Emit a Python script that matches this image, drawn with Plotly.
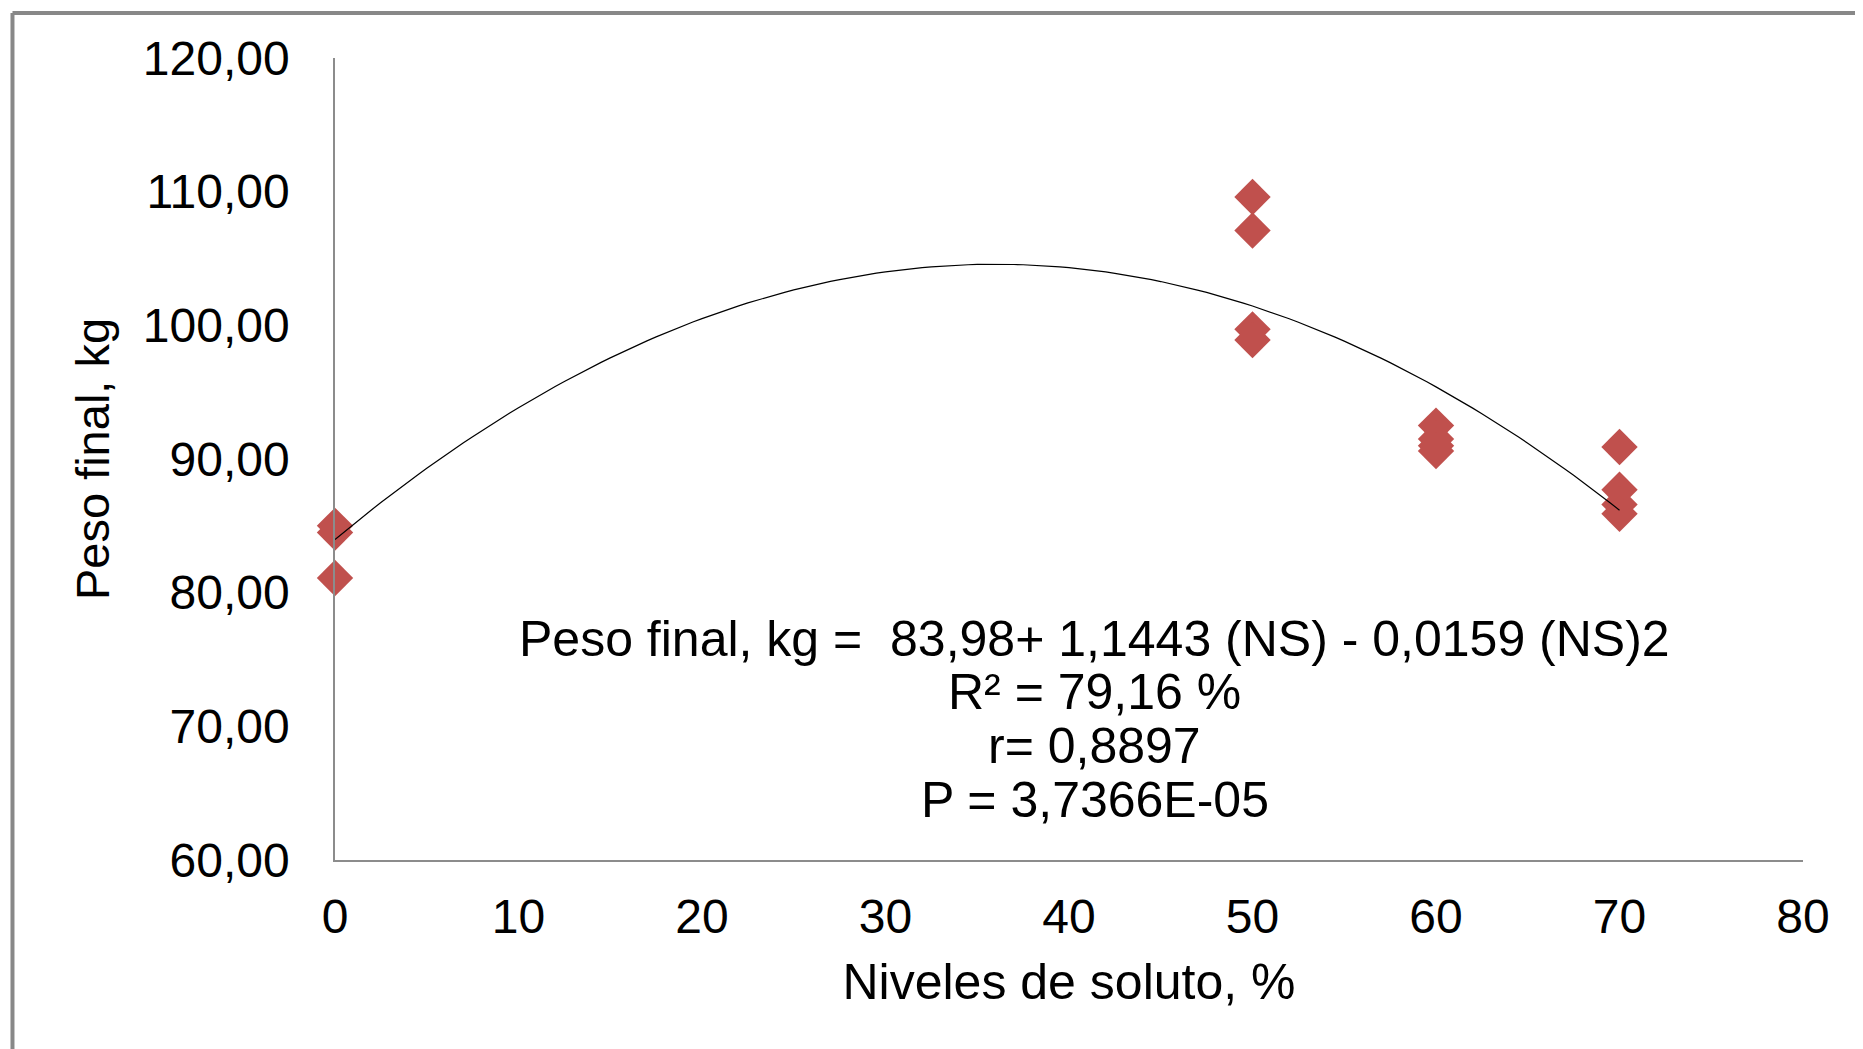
import plotly.graph_objects as go
import numpy as np

# Observed data (Niveles de soluto, % vs Peso final, kg)
x_obs = [0, 0, 0, 50, 50, 50, 50, 60, 60, 60, 60, 70, 70, 70, 70]
y_obs = [85.0, 84.5, 81.1, 109.6, 107.1, 99.7, 98.9, 92.5, 91.5, 91.0, 90.6, 90.9, 87.7, 86.6, 85.9]

# Regression coefficients
b0, b1, b2 = 83.98, 1.1443, -0.0159
x_fit = np.linspace(0, 70, 141)
y_fit = b0 + b1 * x_fit + b2 * x_fit ** 2

x_ticks = [0, 10, 20, 30, 40, 50, 60, 70, 80]
y_ticks = [60, 70, 80, 90, 100, 110, 120]
y_ticklabels = ["60,00", "70,00", "80,00", "90,00", "100,00", "110,00", "120,00"]

eq_lines = [
    "Peso final, kg =\u00a0\u00a083,98+ 1,1443 (NS) - 0,0159 (NS)2",
    "R² = 79,16 %",
    "r= 0,8897",
    "P = 3,7366E-05",
]
eq_y = [76.5, 72.6, 68.5, 64.5]

FONT = "Liberation Sans, Arial, sans-serif"

fig = go.Figure()
fig.add_trace(go.Scatter(
    x=x_obs, y=y_obs, mode="markers",
    marker=dict(symbol="diamond", size=28, color="#C0504D"),
    showlegend=False, cliponaxis=False,
))
fig.add_trace(go.Scatter(
    x=x_fit, y=y_fit, mode="lines",
    line=dict(color="#000000", width=1.2),
    showlegend=False, cliponaxis=False,
))

for txt, yy in zip(eq_lines, eq_y):
    fig.add_annotation(x=41.4, y=yy, xref="x", yref="y", text=txt, showarrow=False,
                       font=dict(family=FONT, size=50, color="black"),
                       xanchor="center", yanchor="middle")

# outer frame (top and left edges visible)
fig.add_shape(type="line", xref="paper", yref="paper", x0=-0.2197, x1=-0.2197, y0=1.056, y1=-0.25,
              line=dict(color="#888888", width=4))
fig.add_shape(type="line", xref="paper", yref="paper", x0=-0.2197, x1=1.06, y0=1.056, y1=1.056,
              line=dict(color="#888888", width=4))

fig.update_layout(
    width=1855, height=1041,
    margin=dict(l=327, r=60, t=50, b=189),
    paper_bgcolor="white", plot_bgcolor="white",
    font=dict(family=FONT, size=48, color="black"),
    xaxis=dict(range=[0, 80], tickvals=x_ticks, ticktext=[str(v) for v in x_ticks],
               showgrid=False, zeroline=False, showline=True, linecolor="#8c8c8c", linewidth=1.5,
               ticks="", ticklabelstandoff=14,
               title=dict(text="Niveles de soluto, %", standoff=22, font=dict(size=50))),
    yaxis=dict(range=[60, 120], tickvals=y_ticks, ticktext=y_ticklabels,
               showgrid=False, zeroline=False, showline=True, linecolor="#8c8c8c", linewidth=1.5,
               ticks="", ticklabelstandoff=34,
               title=dict(text="Peso final, kg", standoff=18, font=dict(size=47))),
)

fig.write_html("out.html")
